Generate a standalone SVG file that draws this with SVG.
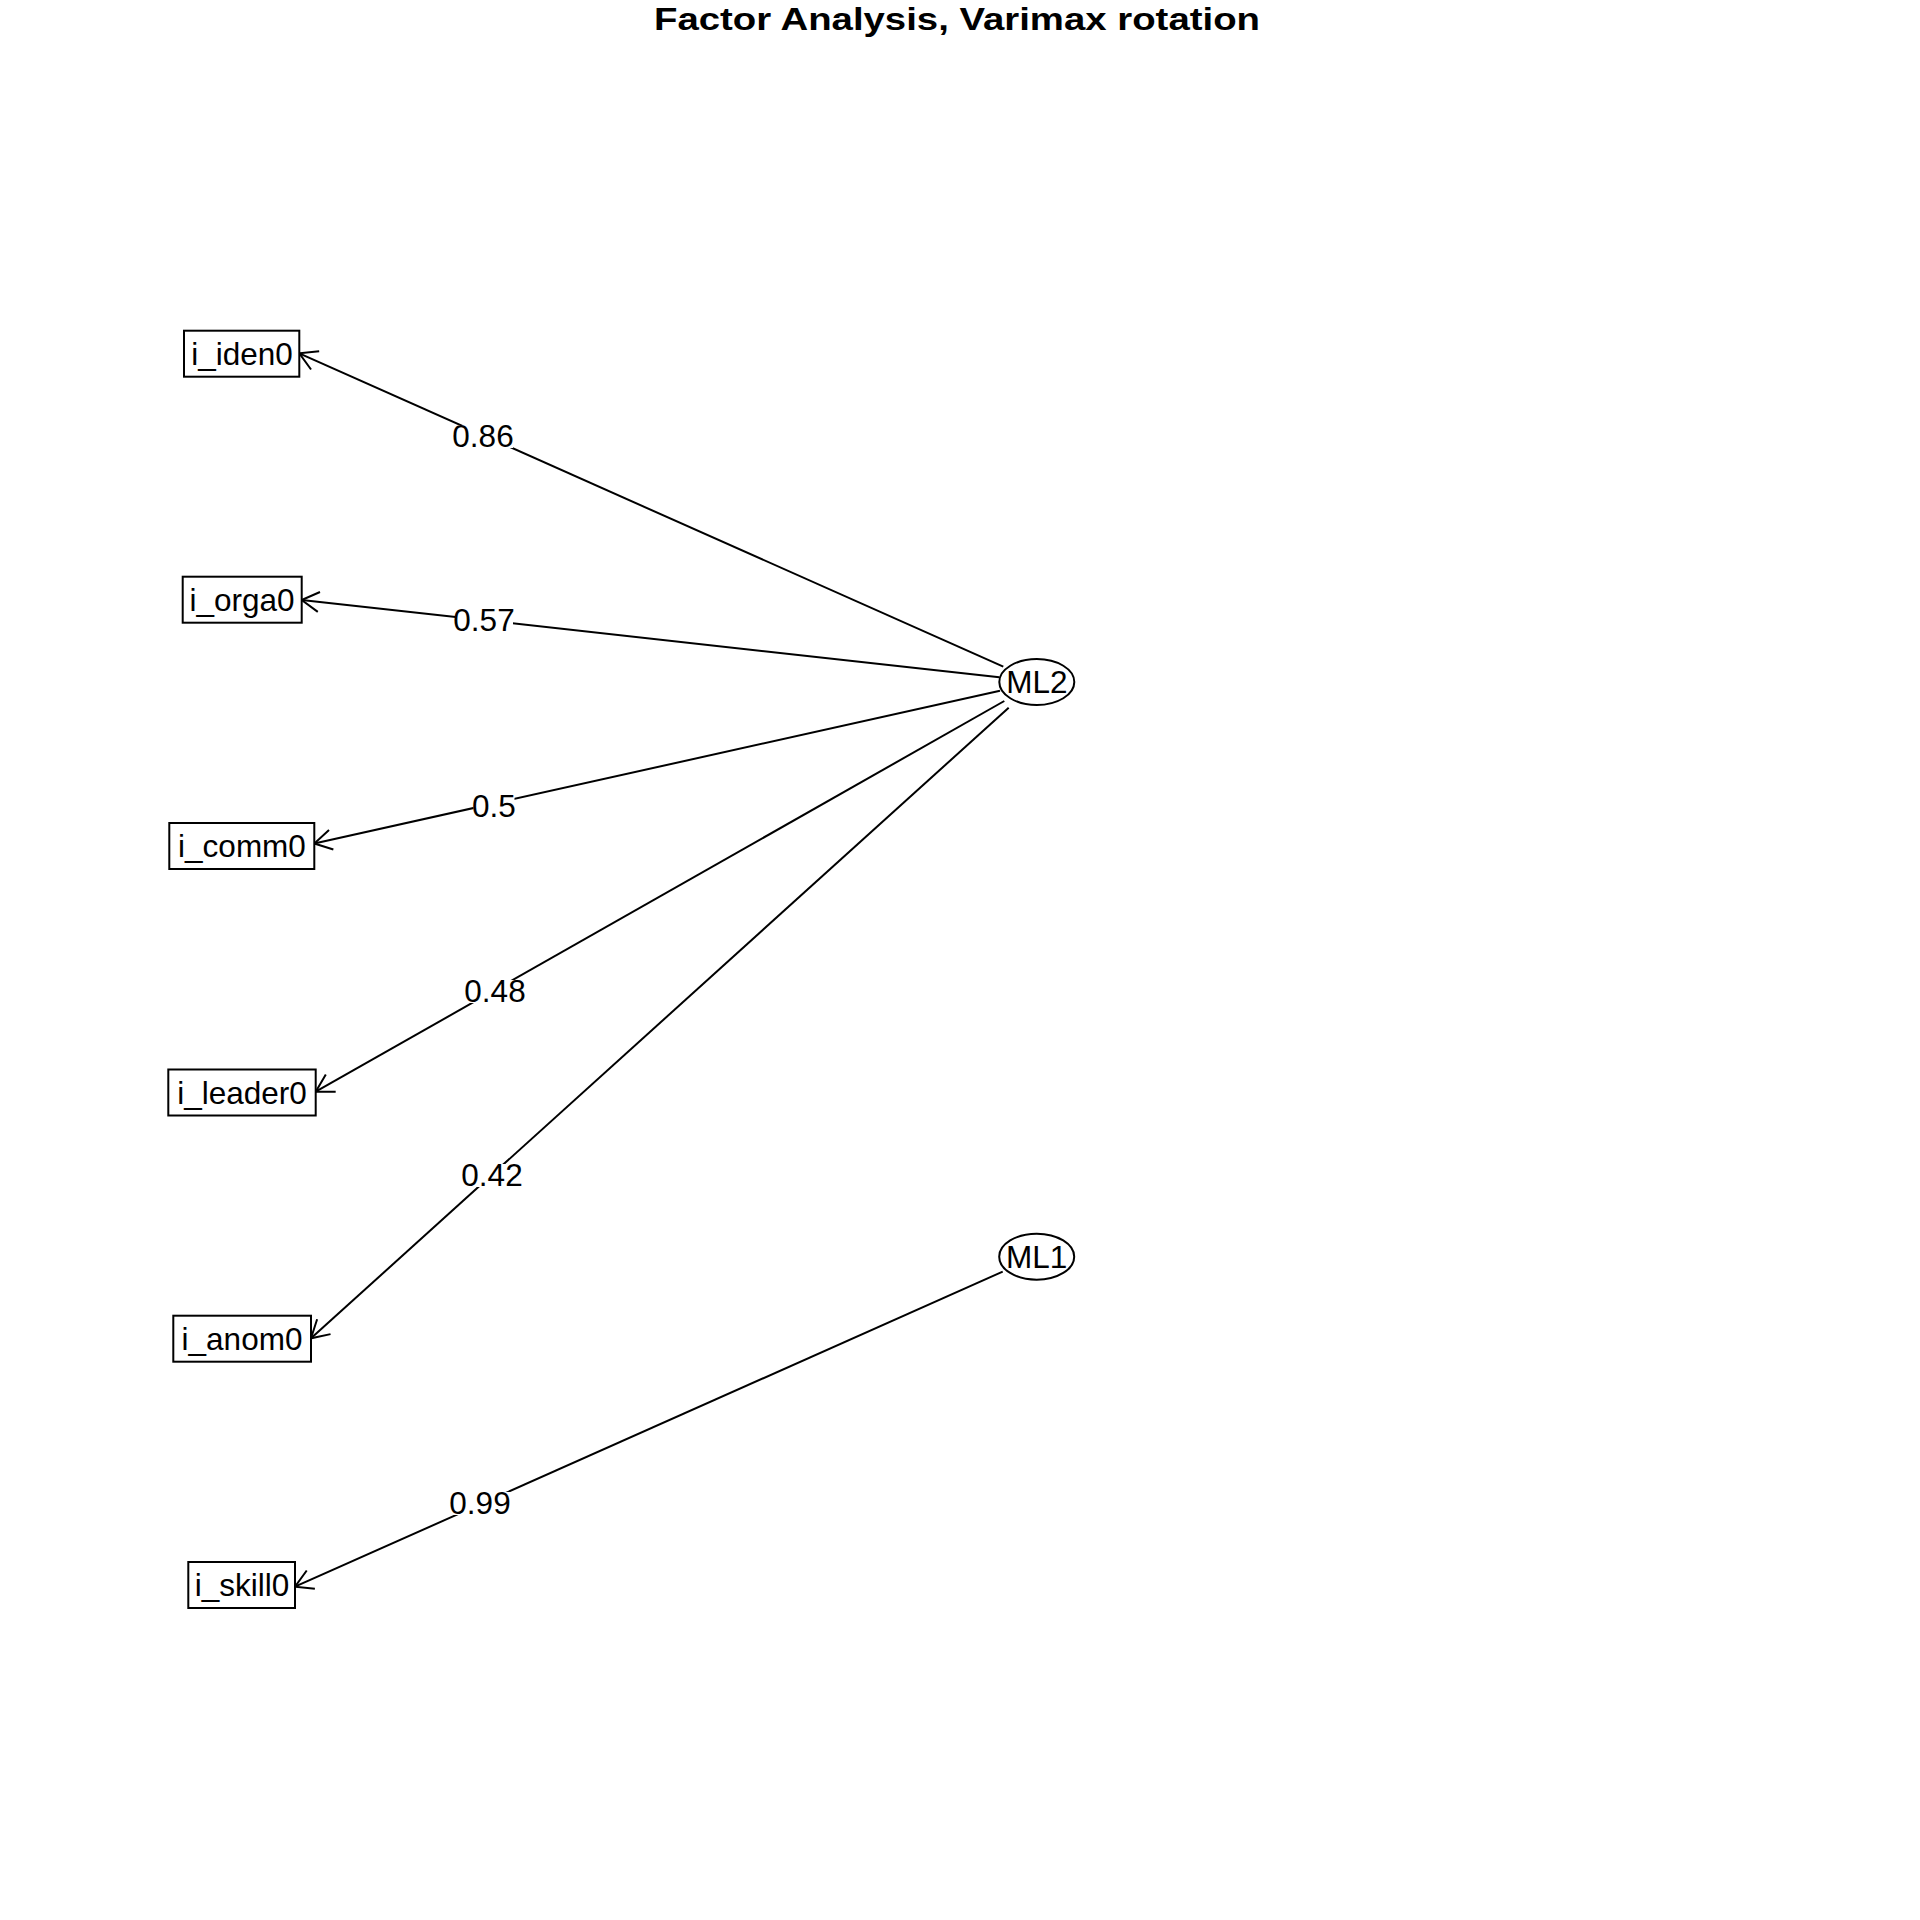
<svg xmlns="http://www.w3.org/2000/svg" width="1920" height="1920" viewBox="0 0 1920 1920">
<defs>
<style>
text{font-family:"Liberation Sans",Arial,sans-serif;fill:#000}
.title{font-size:32px;font-weight:bold}
.lbl{font-size:31.5px}
.box{fill:#fff;stroke:#000;stroke-width:2}
.edge{stroke:#000;stroke-width:2;fill:none}
.bg{fill:#fff;stroke:none}
</style>
<marker id="arr" markerUnits="userSpaceOnUse" markerWidth="40" markerHeight="40" refX="0" refY="0" orient="auto" overflow="visible">
<path d="M-17.3,-10 L0,0 L-17.3,10" fill="none" stroke="#000" stroke-width="2"/>
</marker>
</defs>
<rect width="1920" height="1920" fill="#fff"/>
<text class="title" x="654" y="30" textLength="606" lengthAdjust="spacingAndGlyphs">Factor Analysis, Varimax rotation</text>
<g id="connectors">
<line class="edge" x1="1003.3" y1="666.7" x2="299.3" y2="353.3" marker-end="url(#arr)"/>
<line class="edge" x1="999.3" y1="677.3" x2="301.7" y2="600" marker-end="url(#arr)"/>
<line class="edge" x1="1000" y1="690.7" x2="314.3" y2="843.5" marker-end="url(#arr)"/>
<line class="edge" x1="1004.3" y1="701" x2="315.7" y2="1091.7" marker-end="url(#arr)"/>
<line class="edge" x1="1008.7" y1="707.7" x2="311" y2="1338.3" marker-end="url(#arr)"/>
<line class="edge" x1="1002.7" y1="1271.7" x2="295" y2="1586.7" marker-end="url(#arr)"/>
<rect class="bg" x="453" y="425" width="60" height="23"/>
<text class="lbl" x="483" y="447" text-anchor="middle">0.86</text>
<rect class="bg" x="455" y="609" width="58" height="23"/>
<text class="lbl" x="484" y="631" text-anchor="middle">0.57</text>
<rect class="bg" x="473.5" y="795" width="41" height="23"/>
<text class="lbl" x="494" y="817" text-anchor="middle">0.5</text>
<rect class="bg" x="465" y="980" width="60" height="23"/>
<text class="lbl" x="495" y="1002" text-anchor="middle">0.48</text>
<rect class="bg" x="462" y="1164" width="60" height="23"/>
<text class="lbl" x="492" y="1186" text-anchor="middle">0.42</text>
<rect class="bg" x="450" y="1492" width="61" height="23"/>
<text class="lbl" x="480" y="1514" text-anchor="middle">0.99</text>
</g>
<g id="i_iden0">
<rect class="box" x="184" y="330.7" width="115.3" height="46"/>
<text class="lbl" x="242" y="364.5" text-anchor="middle">i_iden0</text>
</g>
<g id="i_orga0">
<rect class="box" x="182.7" y="576.7" width="119" height="46"/>
<text class="lbl" x="242" y="610.5" text-anchor="middle">i_orga0</text>
</g>
<g id="i_comm0">
<rect class="box" x="169.3" y="823" width="145" height="46"/>
<text class="lbl" x="242" y="857" text-anchor="middle">i_comm0</text>
</g>
<g id="i_leader0">
<rect class="box" x="168.3" y="1069.5" width="147.4" height="46"/>
<text class="lbl" x="242" y="1103.5" text-anchor="middle">i_leader0</text>
</g>
<g id="i_anom0">
<rect class="box" x="173.3" y="1315.7" width="137.7" height="46"/>
<text class="lbl" x="242" y="1349.5" text-anchor="middle">i_anom0</text>
</g>
<g id="i_skill0">
<rect class="box" x="188.3" y="1562" width="106.7" height="46"/>
<text class="lbl" x="242" y="1596" text-anchor="middle">i_skill0</text>
</g>
<g id="ML2">
<ellipse class="box" cx="1036.8" cy="682" rx="37.5" ry="23"/>
<text class="lbl" x="1036.8" y="693.3" text-anchor="middle">ML2</text>
</g>
<g id="ML1">
<ellipse class="box" cx="1036.7" cy="1256.7" rx="37.5" ry="23"/>
<text class="lbl" x="1036.7" y="1268" text-anchor="middle">ML1</text>
</g>
</svg>
